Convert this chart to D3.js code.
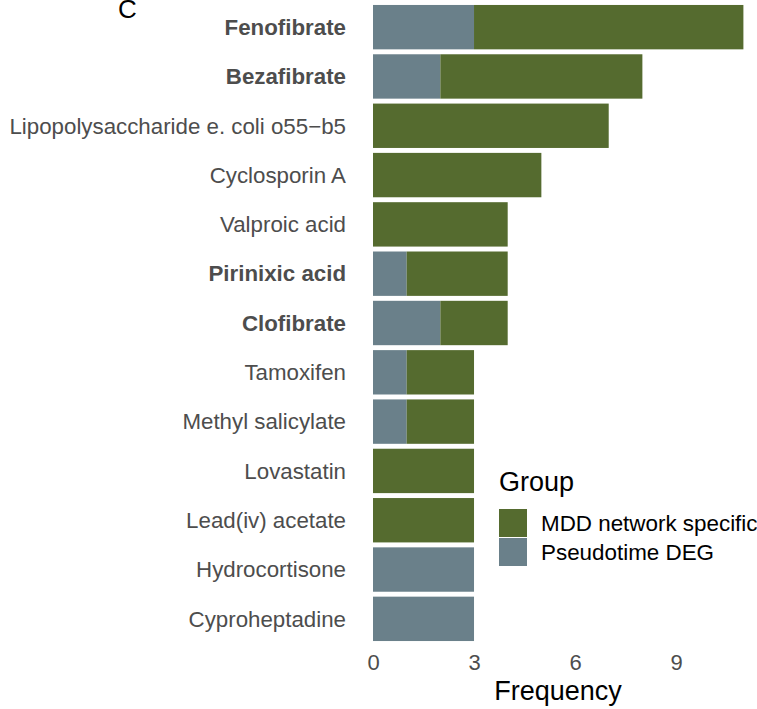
<!DOCTYPE html>
<html lang="en">
<head>
    <meta charset="utf-8">
    <style>
        body { margin: 0; background: #fff; }
        svg { font-family: "Liberation Sans", Arial, sans-serif; }
        .ylab { fill: #4d4d4d; font-size: 22.3px; }
        .xtick { fill: #4d4d4d; font-size: 22px; }
    </style>
</head>
<body>
    <svg width="757" height="709"></svg>
    <script src="https://cdn.jsdelivr.net/npm/d3@7"></script>
    <script>

        // drugs, top to bottom
        var drugs = ["Fenofibrate", "Bezafibrate", "Lipopolysaccharide e. coli o55\u2212b5", "Cyclosporin A",
            "Valproic acid", "Pirinixic acid", "Clofibrate", "Tamoxifen", "Methyl salicylate",
            "Lovastatin", "Lead(iv) acetate", "Hydrocortisone", "Cyproheptadine"];
        var boldDrugs = ["Fenofibrate", "Bezafibrate", "Pirinixic acid", "Clofibrate"];

        var pseudotimeDEG = [3, 2, 0, 0, 0, 1, 2, 1, 1, 0, 0, 3, 3];
        var mddSpecific = [8, 6, 7, 5, 4, 3, 2, 2, 2, 3, 3, 0, 0];

        var groups = ["MDD network specific", "Pseudotime DEG"];
        var groupColors = ["#556b2f", "#6a808a"];
        var xTicks = [0, 3, 6, 9];

        var svg = d3.select("svg");

        var x = d3.scaleLinear()
            .domain([0, 11])
            .range([373, 743.4]);

        var y = d3.scaleBand()
            .domain(drugs)
            .range([2.5, 643.5])
            .paddingInner(0.1)
            .paddingOuter(0.05);

        var rows = drugs.map(function (d, i) {
            return { drug: d, deg: pseudotimeDEG[i], mdd: mddSpecific[i] };
        });

        // pseudotime part sits at the left, MDD part stacked after it
        var bars = svg.append("g");
        bars.selectAll("rect.deg")
            .data(rows.filter(function (d) { return d.deg > 0; }))
            .enter().append("rect")
            .attr("class", "deg")
            .attr("x", x(0))
            .attr("y", function (d) { return y(d.drug); })
            .attr("width", function (d) { return x(d.deg) - x(0); })
            .attr("height", y.bandwidth())
            .attr("fill", groupColors[1]);

        bars.selectAll("rect.mdd")
            .data(rows.filter(function (d) { return d.mdd > 0; }))
            .enter().append("rect")
            .attr("class", "mdd")
            .attr("x", function (d) { return x(d.deg); })
            .attr("y", function (d) { return y(d.drug); })
            .attr("width", function (d) { return x(d.deg + d.mdd) - x(d.deg); })
            .attr("height", y.bandwidth())
            .attr("fill", groupColors[0]);

        // y labels
        svg.append("g").selectAll("text")
            .data(drugs)
            .enter().append("text")
            .attr("class", "ylab")
            .attr("x", 346)
            .attr("y", function (d) { return y(d) + y.bandwidth() / 2; })
            .attr("dy", "0.35em")
            .attr("text-anchor", "end")
            .attr("font-weight", function (d) { return boldDrugs.indexOf(d) >= 0 ? "bold" : "normal"; })
            .text(function (d) { return d; });

        // x axis
        var xAxis = svg.append("g")
            .attr("transform", "translate(0,650)")
            .call(d3.axisBottom(x).tickValues(xTicks).tickSize(0).tickPadding(4));
        xAxis.select(".domain").remove();
        xAxis.selectAll("text")
            .attr("class", "xtick")
            .attr("font-family", null)
            .attr("font-size", null);

        svg.append("text")
            .attr("x", 558)
            .attr("y", 700)
            .attr("text-anchor", "middle")
            .attr("font-size", 27)
            .attr("fill", "#000")
            .text("Frequency");

        svg.append("text")
            .attr("x", 118)
            .attr("y", 18)
            .attr("font-size", 26)
            .attr("fill", "#000")
            .text("C");

        // legend
        var legend = svg.append("g").attr("transform", "translate(499,470)");
        legend.append("text")
            .attr("y", 21)
            .attr("font-size", 27)
            .attr("fill", "#000")
            .text("Group");
        var item = legend.selectAll("g.item")
            .data(groups)
            .enter().append("g")
            .attr("class", "item")
            .attr("transform", function (d, i) { return "translate(0," + (39 + i * 29) + ")"; });
        item.append("rect")
            .attr("width", 28)
            .attr("height", 28)
            .attr("fill", function (d, i) { return groupColors[i]; });
        item.append("text")
            .attr("x", 42)
            .attr("y", 14)
            .attr("dy", "0.35em")
            .attr("font-size", 22.4)
            .attr("fill", "#000")
            .text(function (d) { return d; });

    </script>
</body>
</html>
